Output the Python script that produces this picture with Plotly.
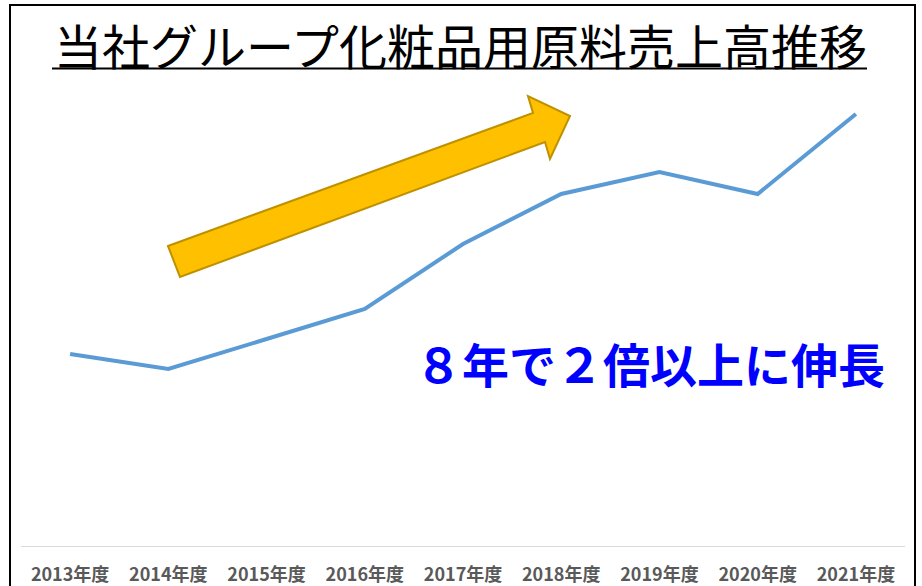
import plotly.graph_objects as go

# Data (relative sales index)
years = ["2013年度", "2014年度", "2015年度", "2016年度", "2017年度",
         "2018年度", "2019年度", "2020年度", "2021年度"]
sales = [19.2, 17.7, 20.7, 23.7, 30.2, 35.2, 37.4, 35.2, 43.2]

title_text = "当社グループ化粧品用原料売上高推移"
note_text = "８年で２倍以上に伸長"

W, H = 922, 586
# paper area = the black frame (left 11, right 914, top 6, open bottom)
FL, FR, FT = 11, 914, 6
FW, FH = FR - FL, H - FT

# inner plot area in pixels
PX0, PX1, PY0, PY1 = 21, 905, 96, 546


def px(x):
    return (x - FL) / FW


def py(y):
    return (H - y) / FH


fig = go.Figure()
# invisible trace that carries the frame axes (drawn first, underneath)
fig.add_trace(go.Scatter(x=[0, 1], y=[0, 1], xaxis="x2", yaxis="y2",
                         mode="markers", marker=dict(opacity=0),
                         hoverinfo="skip", showlegend=False))
fig.add_trace(go.Scatter(
    x=years, y=sales, mode="lines",
    line=dict(color="#5B9BD5", width=4),
    hoverinfo="x+y", showlegend=False,
))

# arrow polygon (pixel coordinates -> paper)
arrow_pts = [(168, 246), (533, 113), (528, 96), (570, 116),
             (550, 159), (545, 142), (180, 277)]
path = "M " + " L ".join(f"{px(x):.5f},{py(y):.5f}" for x, y in arrow_pts) + " Z"

shapes = [
    # title underline
    dict(type="line", xref="paper", yref="paper",
         x0=px(52), x1=px(867), y0=py(68.5), y1=py(68.5),
         line=dict(color="black", width=2)),
    # arrow
    dict(type="path", xref="paper", yref="paper", path=path,
         fillcolor="#FFC000", line=dict(color="#BF9000", width=2)),
]

annotations = [
    dict(text=title_text, xref="paper", yref="paper", x=px(460), y=py(44),
         xanchor="center", yanchor="middle", showarrow=False,
         font=dict(family="Noto Sans CJK JP", size=48, color="black")),
    dict(text=f"<b>{note_text}</b>", xref="paper", yref="paper", x=px(650), y=py(362),
         xanchor="center", yanchor="middle", showarrow=False,
         font=dict(family="Noto Sans CJK JP", size=47, color="#0000FF")),
]

fig.update_layout(
    width=W, height=H,
    margin=dict(l=FL, r=W - FR, t=FT, b=0, autoexpand=False),
    paper_bgcolor="white", plot_bgcolor="rgba(0,0,0,0)",
    shapes=shapes, annotations=annotations,
    xaxis=dict(domain=[px(PX0), px(PX1)], anchor="y",
               showgrid=False, showline=True, linecolor="#D9D9D9", linewidth=1,
               range=[-0.5, len(years) - 0.5],
               ticks="", ticklabelstandoff=12, automargin=False,
               tickfont=dict(family="Noto Sans CJK JP", size=18, color="#595959", weight="bold"),
               zeroline=False, fixedrange=True),
    yaxis=dict(domain=[py(PY1), py(PY0)], anchor="x",
               range=[0, 45], showgrid=False, showticklabels=False, zeroline=False,
               showline=False, automargin=False, fixedrange=True),
    # frame: top line from xaxis2, left/right lines from yaxis2 (mirrored)
    xaxis2=dict(domain=[0, 1], anchor="y2", side="top", range=[0, 1],
                showline=True, linecolor="black", linewidth=2, mirror=False,
                showticklabels=False, showgrid=False, zeroline=False, ticks="",
                automargin=False, fixedrange=True),
    yaxis2=dict(domain=[0, 1], anchor="x2", range=[0, 1],
                showline=True, linecolor="black", linewidth=2, mirror=True,
                showticklabels=False, showgrid=False, zeroline=False, ticks="",
                automargin=False, fixedrange=True),
)

fig.write_html("out.html")
